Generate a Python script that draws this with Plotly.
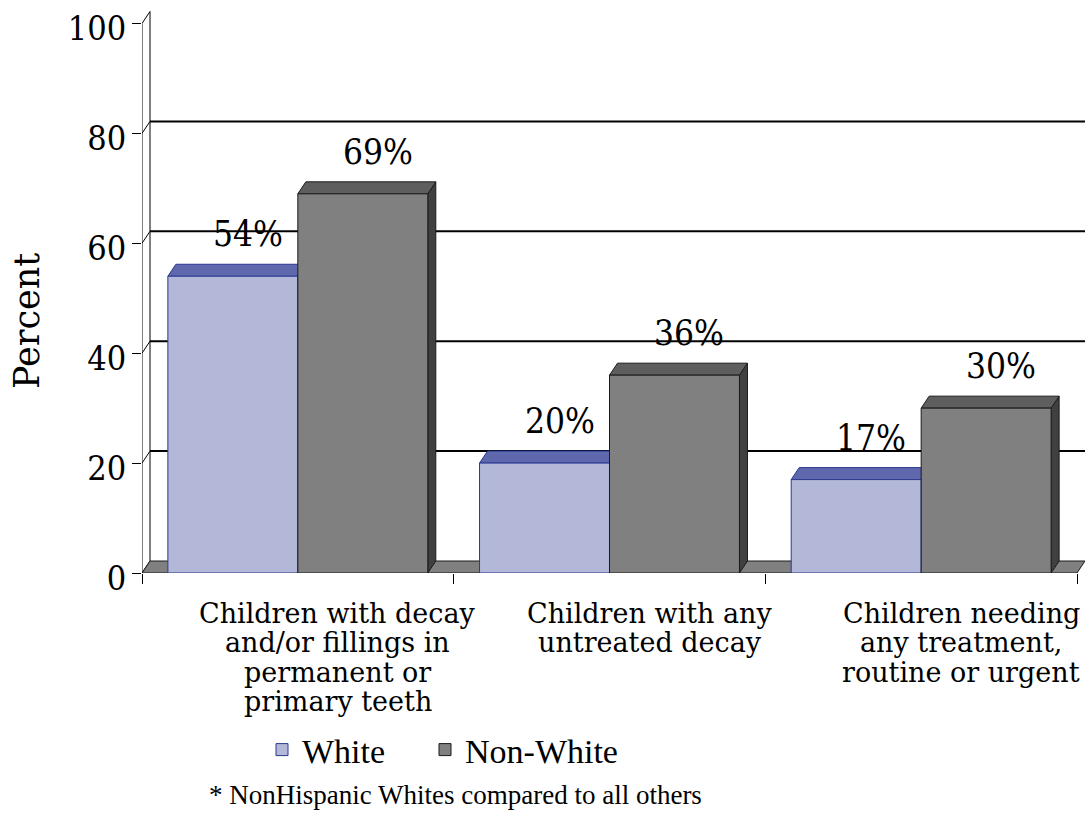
import plotly.graph_objects as go

# ---------------- data ----------------
categories = [
    "Children with decay<br>and/or fillings in<br>permanent or<br>primary teeth",
    "Children with any<br>untreated decay",
    "Children needing<br>any treatment,<br>routine or urgent",
]
white_values = [54, 20, 17]
nonwhite_values = [69, 36, 30]
series_names = ["White", "Non-White"]
y_ticks = [0, 20, 40, 60, 80, 100]
footnote = "* NonHispanic Whites compared to all others"

# ---------------- styling / geometry ----------------
W, H = 1092, 814
M_L, M_R, M_T, M_B = 142, 7, 7, 241
DEPTH_X_PX, DEPTH_Y_PX = 8, 12
Y_TOP = 103.0
BAR_W = 0.417
CAT_LABEL_TOP_PX, CAT_LINE_PX = 613, 29.5

plot_w = W - M_L - M_R
plot_h = H - M_T - M_B
base_px = H - M_B
px_per_cat = (plot_w - DEPTH_X_PX) / len(categories)
ddx = DEPTH_X_PX / px_per_cat
ddy = DEPTH_Y_PX / (plot_h / Y_TOP)
x_left, x_right = -0.5, len(categories) - 0.5

WHITE_FACE, WHITE_TOP, WHITE_SIDE, WHITE_LINE = "#B3B8D9", "#5F67AD", "#3F4690", "#2B3990"
NW_FACE, NW_TOP, NW_SIDE, NW_LINE = "#808080", "#5E5E5E", "#404040", "#1A1A1A"
SERIF = "DejaVu Serif"
SERIF_C = "DejaVu Serif Condensed, DejaVu Serif"
TIMES = "Liberation Serif"

fig = go.Figure()
fig.add_trace(go.Bar(
    x=categories, y=white_values, name=series_names[0], legend="legend",
    width=BAR_W, offset=-BAR_W,
    marker=dict(color=WHITE_FACE, line=dict(color=WHITE_LINE, width=1)),
    hoverinfo="skip",
))
fig.add_trace(go.Bar(
    x=categories, y=nonwhite_values, name=series_names[1], legend="legend2",
    width=BAR_W, offset=0,
    marker=dict(color=NW_FACE, line=dict(color=NW_LINE, width=1)),
    hoverinfo="skip",
))

shapes = []


def poly(pts, fill, line_color, width=1):
    path = "M " + " L ".join(f"{x},{y}" for x, y in pts) + " Z"
    return dict(type="path", path=path, xref="x", yref="y", fillcolor=fill,
                line=dict(color=line_color, width=width), layer="below")


def seg(x0, y0, x1, y1, color="black", width=1):
    return dict(type="line", x0=x0, y0=y0, x1=x1, y1=y1, xref="x", yref="y",
                line=dict(color=color, width=width), layer="below")


# back wall gridlines
for v in y_ticks[1:-1]:
    shapes.append(seg(x_left + ddx, v + ddy, x_right + ddx, v + ddy, width=2))
# left wall
shapes.append(seg(x_left, 0, x_left, y_ticks[-1]))
shapes.append(seg(x_left + ddx, ddy, x_left + ddx, y_ticks[-1] + ddy))
for v in y_ticks:
    shapes.append(seg(x_left, v, x_left + ddx, v + ddy))
# floor
shapes.append(poly([(x_left, 0), (x_left + ddx, ddy), (x_right + ddx, ddy), (x_right, 0)],
                   "#808080", "#1A1A1A"))

# 3D top and side faces for each bar
for i, (wv, nv) in enumerate(zip(white_values, nonwhite_values)):
    for x0, v, top, side, lc in [
        (i - BAR_W, wv, WHITE_TOP, WHITE_SIDE, WHITE_LINE),
        (i, nv, NW_TOP, NW_SIDE, NW_LINE),
    ]:
        x1 = x0 + BAR_W
        shapes.append(poly([(x1, 0), (x1, v), (x1 + ddx, v + ddy), (x1 + ddx, ddy)], side, lc))
        shapes.append(poly([(x0, v), (x0 + ddx, v + ddy), (x1 + ddx, v + ddy), (x1, v)], top, lc))

annotations = []
for i, (wv, nv) in enumerate(zip(white_values, nonwhite_values)):
    for xc, v in [(i - BAR_W / 2, wv), (i + BAR_W / 2, nv)]:
        annotations.append(dict(
            x=xc, y=v, xref="x", yref="y", text=f"{v}%", showarrow=False,
            xshift=15, yshift=42, yanchor="middle", xanchor="center",
            font=dict(family=SERIF_C, size=35, color="black"),
        ))

# category labels, one text line per annotation for tight line spacing
for i, cat in enumerate(categories):
    for k, line in enumerate(cat.split("<br>")):
        annotations.append(dict(
            x=i, xref="x", xshift=40, xanchor="center",
            yref="paper", y=(base_px - (CAT_LABEL_TOP_PX + k * CAT_LINE_PX)) / plot_h,
            yanchor="middle", text=line, showarrow=False,
            font=dict(family=SERIF, size=27, color="black"),
        ))

annotations.append(dict(
    text="Percent", textangle=-90, showarrow=False,
    xref="paper", x=0, xshift=-115, xanchor="center",
    yref="paper", y=(base_px - 321) / plot_h, yanchor="middle",
    font=dict(family=SERIF, size=35, color="black"),
))
annotations.append(dict(
    text=footnote, showarrow=False,
    xref="paper", x=(455 - M_L) / plot_w, xanchor="center",
    yref="paper", y=(base_px - 795) / plot_h, yanchor="middle",
    font=dict(family=TIMES, size=27, color="black"),
))

legend_style = dict(
    orientation="h", xref="container", yref="container",
    y=1 - 750 / H, xanchor="left", yanchor="middle",
    font=dict(family=TIMES, size=34, color="black"),
    bgcolor="rgba(0,0,0,0)", itemwidth=30,
)

fig.update_layout(
    width=W, height=H,
    margin=dict(l=M_L, r=M_R, t=M_T, b=M_B, pad=0, autoexpand=False),
    paper_bgcolor="white", plot_bgcolor="white",
    barmode="overlay",
    showlegend=True,
    legend=dict(x=262 / W, **legend_style),
    legend2=dict(x=425 / W, **legend_style),
    shapes=shapes,
    annotations=annotations,
    xaxis=dict(
        type="category", range=[x_left, x_right + ddx],
        tickson="boundaries", ticks="outside", ticklen=10, tickcolor="black",
        tickwidth=1, showgrid=False, showline=False, zeroline=False,
        showticklabels=False,
        fixedrange=True,
    ),
    yaxis=dict(
        range=[0, Y_TOP], tickvals=y_ticks, ticks="outside", ticklen=9,
        tickcolor="black", tickwidth=1, showgrid=False, showline=False,
        zeroline=False, ticklabelstandoff=-1, ticklabelshift=5,
        tickfont=dict(family=SERIF_C, size=34, color="black"),
        fixedrange=True,
    ),
)

fig.write_html("out.html")
